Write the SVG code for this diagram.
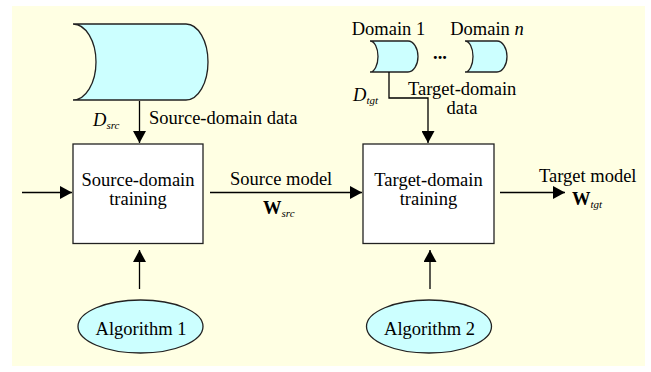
<svg xmlns="http://www.w3.org/2000/svg" width="651" height="372" viewBox="0 0 651 372">
<style>
.t{font-family:'Liberation Serif','Times New Roman',Times,serif;font-size:18.5px;fill:#000}
.s{font-family:'Liberation Serif','Times New Roman',Times,serif;font-size:11px;font-style:italic;fill:#000}
.i{font-style:italic}
.b{font-weight:bold}
.shape{fill:#ccffff;stroke:#222;stroke-width:1.3}
.box{fill:#fff;stroke:#222;stroke-width:1.3}
.ln{fill:none;stroke:#000;stroke-width:1.3}
</style>
<defs>
<marker id="ah" markerUnits="userSpaceOnUse" markerWidth="12" markerHeight="13" refX="12" refY="6.5" orient="auto">
<path d="M0,0 L12,6.5 L0,13 Z" fill="#000"/>
</marker>
</defs>
<rect x="12" y="6" width="633" height="360" fill="#ffffe3"/>

<g id="src-data">
<path class="shape" d="M73,24 H186 A22,38 0 0 1 186,100 H73 A23,38 0 0 0 73,24 Z"/>
</g>
<g id="domain1">
<path class="shape" d="M370,41 H408 A10,15.5 0 0 1 408,72 H370 A8,15.5 0 0 0 370,41 Z"/>
<text class="t" x="388.5" y="35" text-anchor="middle">Domain 1</text>
</g>
<g id="dots">
<text class="t b" x="440" y="59" text-anchor="middle">...</text>
</g>
<g id="domainn">
<path class="shape" d="M465,41 H497 A10,15.5 0 0 1 497,72 H465 A8,15.5 0 0 0 465,41 Z"/>
<text class="t" x="487" y="35" text-anchor="middle">Domain <tspan class="i">n</tspan></text>
</g>
<g id="src-train">
<rect class="box" x="73" y="144" width="130" height="99.5"/>
<text class="t" x="138" y="186" text-anchor="middle">Source-domain</text>
<text class="t" x="138" y="205" text-anchor="middle">training</text>
</g>
<g id="tgt-train">
<rect class="box" x="363" y="144" width="131" height="99.5"/>
<text class="t" x="428.5" y="186" text-anchor="middle">Target-domain</text>
<text class="t" x="428.5" y="205" text-anchor="middle">training</text>
</g>
<g id="alg1">
<ellipse class="shape" cx="140.5" cy="326.5" rx="62.5" ry="26.5"/>
<text class="t" x="141" y="335" text-anchor="middle">Algorithm 1</text>
</g>
<g id="alg2">
<ellipse class="shape" cx="429" cy="326.5" rx="62.5" ry="26.5"/>
<text class="t" x="429.5" y="335" text-anchor="middle">Algorithm 2</text>
</g>

<g id="connectors">
<path class="ln" d="M139.5,101 V143" marker-end="url(#ah)"/>
<path class="ln" d="M389,72 V98 H428 V143" marker-end="url(#ah)"/>
<path class="ln" d="M22,192.5 H72" marker-end="url(#ah)"/>
<path class="ln" d="M210,192.5 H362" marker-end="url(#ah)"/>
<path class="ln" d="M500,192.5 H565" marker-end="url(#ah)"/>
<path class="ln" d="M139.5,289 V250" marker-end="url(#ah)"/>
<path class="ln" d="M430,289 V250" marker-end="url(#ah)"/>
</g>

<g id="labels">
<text class="t i" x="93" y="126">D<tspan class="s" dy="3">src</tspan></text>
<text class="t" x="149" y="124">Source-domain data</text>
<text class="t i" x="353" y="101">D<tspan class="s" dy="3">tgt</tspan></text>
<text class="t" x="408" y="95">Target-domain</text>
<text class="t" x="462" y="114" text-anchor="middle">data</text>
<text class="t" x="230" y="185">Source model</text>
<text class="t b" x="263" y="214">W<tspan class="s" style="font-weight:normal" dy="3">src</tspan></text>
<text class="t" x="539" y="182">Target model</text>
<text class="t b" x="572" y="205">W<tspan class="s" style="font-weight:normal" dy="3">tgt</tspan></text>
</g>
</svg>
